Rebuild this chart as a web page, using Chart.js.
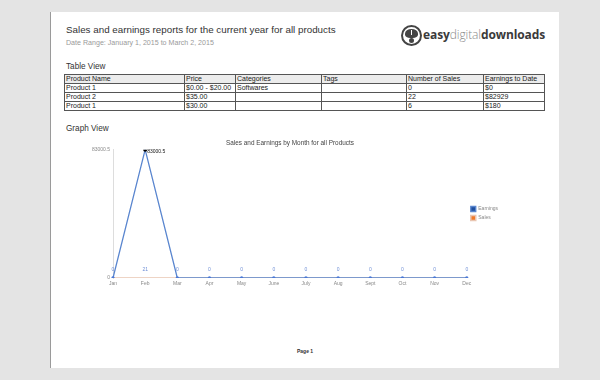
<!DOCTYPE html>
<html>
<head>
<meta charset="utf-8">
<script src="https://cdn.jsdelivr.net/npm/chart.js@4.4.1/dist/chart.umd.min.js"></script>
<style>
  html, body { margin: 0; padding: 0; }
  body { width: 600px; height: 380px; background: #e4e4e4; position: relative; overflow: hidden;
         font-family: "Liberation Sans", Arial, sans-serif; }
  .page { position: absolute; left: 50px; top: 12px; width: 508px; height: 356px; background: #fff;
          border-left: 1px solid #9a9a9a; }
  .abs { position: absolute; white-space: nowrap; }
  .title { left: 15px; top: 12px; font-size: 9.8px; color: #333; }
  .range { left: 15px; top: 27px; font-size: 7.1px; color: #9a9a9a; }
  .section { left: 15px; font-size: 8.2px; color: #333; }
  .logo { left: 350px; top: 13px; height: 24px; }
  .logo .circ { position: absolute; left: 0; top: 0; width: 17px; height: 17px; border-radius: 50%;
                border: 2px solid #444; background: #fff; }
  .logo .circ i { position: absolute; left: 2px; top: 2px; width: 13px; height: 9px; border-radius: 50% 50% 40% 40%;
                  background: #444; }
  .logo .circ i:after { content: ""; position: absolute; left: 6px; top: 1px; width: 1px; height: 5px; background: #fff; }
  .logo .circ u { position: absolute; left: 6px; top: 11px; width: 5px; height: 5px; border-radius: 50%; background: #444; }
  .logo .txt { position: absolute; left: 22px; top: 1px; font-family: "Open Sans", sans-serif; font-size: 12px;
               color: #3a3a3a; letter-spacing: -0.1px; }
  .logo .txt b { font-weight: 700; }
  .logo .txt span { font-weight: 300; color: #8a8a8a; }
  table { position: absolute; left: 13px; top: 62px; width: 480px; border-collapse: collapse; font-size: 7px;
          color: #222; table-layout: fixed; border: 1.5px solid #444; }
  td { border: 1px solid #555; border-bottom-width: 1.5px; padding: 0 1px; height: 8px; line-height: 8px;
       overflow: hidden; white-space: nowrap; }
  tr.head td { background: #ececec; }
  .chartbox { position: absolute; left: 10px; top: 125px; width: 480px; height: 153px; }
  .pageno { left: 246px; top: 336px; font-size: 5px; font-weight: bold; color: #333; }
</style>
</head>
<body>
<div class="page">
  <div class="abs title">Sales and earnings reports for the current year for all products</div>
  <div class="abs range">Date Range: January 1, 2015 to March 2, 2015</div>
  <div class="abs logo"><div class="circ"><i></i><u></u></div><div class="txt"><b>easy</b><span>digital</span><b>downloads</b></div></div>
  <div class="abs section" style="top:50px">Table View</div>
  <table>
    <colgroup><col style="width:120px"><col style="width:51px"><col style="width:86px"><col style="width:85px"><col style="width:77px"><col style="width:61px"></colgroup>
    <tr class="head"><td>Product Name</td><td>Price</td><td>Categories</td><td>Tags</td><td>Number of Sales</td><td>Earnings to Date</td></tr>
    <tr><td>Product 1</td><td>$0.00 - $20.00</td><td>Softwares</td><td></td><td>0</td><td>$0</td></tr>
    <tr><td>Product 2</td><td>$35.00</td><td></td><td></td><td>22</td><td>$82929</td></tr>
    <tr><td>Product 1</td><td>$30.00</td><td></td><td></td><td>6</td><td>$180</td></tr>
  </table>
  <div class="abs section" style="top:112px">Graph View</div>
  <div class="chartbox"><canvas id="salesChart" width="480" height="153"></canvas></div>
  <div class="abs pageno">Page 1</div>
</div>
<script>
const months = ["Jan", "Feb", "Mar", "Apr", "May", "June", "July", "Aug", "Sept", "Oct", "Nov", "Dec"];
const earnings = [0, 83000.5, 0, 0, 0, 0, 0, 0, 0, 0, 0, 0];
const sales = [0, 21, 0, 0, 0, 0, 0, 0, 0, 0, 0, 0];
const yTicks = [0, 83000.5];

// point labels like the old flot report: sales counts above the line, peak earnings beside its point
const pointLabels = {
  id: "pointLabels",
  afterDatasetsDraw(chart) {
    const ctx = chart.ctx;
    ctx.save();
    ctx.font = "5px 'Liberation Sans', Arial";
    const salesMeta = chart.getDatasetMeta(1);
    ctx.fillStyle = "#6f8fd6";
    ctx.textAlign = "center";
    salesMeta.data.forEach((pt, i) => {
      ctx.fillText(String(sales[i]), pt.x, pt.y - 7);
    });
    const earnMeta = chart.getDatasetMeta(0);
    ctx.fillStyle = "#111";
    ctx.textAlign = "left";
    earnMeta.data.forEach((pt, i) => {
      if (earnings[i] > 0) ctx.fillText(String(earnings[i]), pt.x + 2, pt.y + 3);
    });
    ctx.restore();
  },
};

const ctx = document.getElementById("salesChart");
new Chart(ctx, {
  type: "line",
  data: {
    labels: months,
    datasets: [
      {
        label: "Earnings",
        data: earnings,
        borderColor: "#5a86cf",
        backgroundColor: "#1f4f9e",
        borderWidth: 1.3,
        pointRadius: earnings.map((v) => (v > 0 ? 2 : 1.7)),
        pointBackgroundColor: earnings.map((v) => (v > 0 ? "#000" : "#4a78d6")),
        pointBorderWidth: 0,
        tension: 0,
        order: 0,
      },
      {
        label: "Sales",
        data: sales,
        borderColor: "#e9c6b2",
        backgroundColor: "#f07a2a",
        borderWidth: 1.5,
        pointRadius: 0,
        tension: 0,
        order: 1,
      },
    ],
  },
  options: {
    animation: false,
    responsive: false,
    devicePixelRatio: 1,
    layout: { padding: { left: 11, right: 33, top: 0, bottom: 0 } },
    plugins: {
      title: {
        display: true,
        text: "Sales and Earnings by Month for all Products",
        color: "#444",
        font: { size: 6.4, family: "'Liberation Sans', Arial", weight: "normal" },
        padding: { top: 2, bottom: 3 },
      },
      legend: {
        position: "right",
        align: "center",
        labels: {
          boxWidth: 5,
          boxHeight: 5,
          padding: 4,
          color: "#888",
          font: { size: 5, family: "'Liberation Sans', Arial" },
        },
      },
      tooltip: { enabled: false },
    },
    scales: {
      x: {
        type: "category",
        offset: false,
        grid: { display: false, drawTicks: false },
        border: { display: false },
        ticks: { color: "#888", font: { size: 5, family: "'Liberation Sans', Arial" }, padding: 3, maxRotation: 0 },
      },
      y: {
        min: 0,
        max: yTicks[yTicks.length - 1],
        afterBuildTicks: (axis) => { axis.ticks = yTicks.map((v) => ({ value: v })); },
        afterFit: (axis) => { axis.width = 41; },
        grid: { display: false, drawTicks: true, tickLength: 2, tickColor: "#bbb" },
        border: { display: true, color: "#ddd" },
        ticks: { color: "#888", font: { size: 5, family: "'Liberation Sans', Arial" }, padding: 1, callback: (v) => String(v) },
      },
    },
  },
  plugins: [pointLabels],
});
</script>
</body>
</html>
